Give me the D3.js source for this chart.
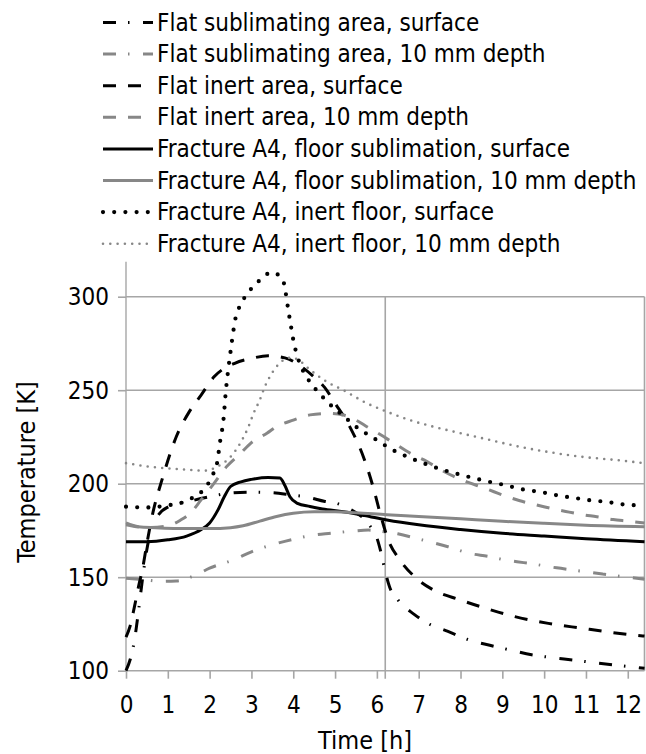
<!DOCTYPE html>
<html><head><meta charset="utf-8">
<script src="https://cdn.jsdelivr.net/npm/d3@7"></script>
<style>
html,body{margin:0;padding:0;background:#fff;}
svg text{font-family:"Liberation Sans Narrow","Arial Narrow","DejaVu Sans Condensed","Liberation Sans",sans-serif;fill:#000;}
</style></head>
<body>
<svg id="chart" width="646" height="754"></svg>
<script>
// ---- data (time [h], temperature [K]) ----
const flatSubSurface = [[0,100],[0.1,106],[0.2,116],[0.3,132],[0.4,150],[0.5,165],[0.6,175],[0.8,184],[1.0,187.5],[1.5,190.5],[2.0,193],[2.5,195],[3.0,195.5],[3.5,195.2],[4.0,193.8],[4.3,193],[4.76,190.5],[5.04,189.5],[5.36,186.3],[5.72,180.6],[5.88,176],[6.0,171],[6.1,163],[6.2,153],[6.3,145],[6.5,138],[6.9,130],[7.2,125.5],[7.7,121],[8.2,116.5],[8.7,113.6],[9.2,111],[9.7,108.5],[10.2,107],[10.7,105.7],[11.2,104.3],[11.7,103],[12.4,101.3]];
const flatSubDepth = [[0,149.5],[0.5,148.5],[0.8,147.8],[1.2,148],[1.7,151.5],[2.0,154.8],[2.6,159.5],[3.0,163.6],[3.6,168],[4.0,170.3],[4.4,172.2],[4.9,173.5],[5.4,174.6],[5.8,175.2],[6.1,174.5],[6.5,173.2],[7.0,170.4],[7.3,168.7],[7.7,166.3],[8.2,162.8],[8.7,161],[9.0,159.5],[9.35,158.3],[9.7,157.2],[10.3,155],[10.7,153.8],[11.0,152.9],[11.4,151.7],[11.7,150.8],[12.05,149.9],[12.4,148.9]];
const flatInertSurface = [[0,118],[0.1,124],[0.2,134],[0.3,145],[0.4,155],[0.5,168],[0.6,180],[0.9,205],[1.2,225],[1.5,238],[1.8,247.5],[2.1,257],[2.6,264.4],[3.0,267],[3.4,268.4],[3.8,267.3],[4.2,262.5],[4.5,257],[4.75,251.5],[5.0,243],[5.35,230.5],[5.7,213],[5.9,199],[6.08,184],[6.27,170],[6.55,159.2],[6.9,150.3],[7.35,143.2],[8.0,137.8],[8.6,133.4],[9.3,128.9],[10.1,125.3],[10.9,122.7],[11.6,120.5],[12.4,118.5]];
const flatInertDepth = [[0,178],[0.5,176.5],[1.0,177.5],[1.3,180.5],[1.55,184.5],[1.8,191.5],[2.1,200],[2.4,209],[2.73,216],[3.0,222],[3.37,227],[3.6,230.5],[4.0,234],[4.4,236.8],[4.9,237.6],[5.2,236.7],[5.5,234],[5.76,230.5],[6.1,226],[6.35,222.5],[6.87,215.4],[7.2,211.8],[7.5,207.8],[7.83,204],[8.15,201],[8.5,198.2],[8.8,195.7],[9.1,193.2],[9.4,191],[9.75,189],[10.2,186.6],[10.6,184.8],[10.9,183.5],[11.26,182.3],[11.65,180.8],[12.0,180],[12.4,179]];
const fracSubSurface = [[0,169],[0.5,169],[1.0,170],[1.45,172],[1.8,175.5],[2.0,179],[2.2,186],[2.35,193],[2.5,198.5],[2.75,201],[3.0,202.3],[3.4,203.3],[3.68,203],[3.8,199],[3.92,193],[4.1,189.5],[4.4,187.8],[4.7,186.5],[5.2,185],[5.7,183],[6.24,180.6],[7.0,178],[8.0,175.5],[9.0,173.5],[10.0,172],[11.0,170.5],[12.4,169]];
const fracSubDepth = [[0,179],[0.3,177],[0.7,176.5],[1.5,176],[2.0,176],[2.5,176.5],[2.8,177.5],[3.2,180],[3.6,182.5],[4.0,184.2],[4.5,185],[5.0,185],[5.5,184.5],[6.24,183.4],[7.0,182.5],[8.0,181.2],[9.0,179.9],[10.0,178.8],[11.0,177.8],[12.4,177]];
const fracInertSurface = [[0,187.7],[0.5,187.3],[1.05,188.6],[1.33,189.8],[1.57,192.2],[1.81,195.7],[1.97,200.2],[2.08,205],[2.17,210],[2.25,222.5],[2.33,234],[2.39,250],[2.45,262],[2.5,270.6],[2.57,282],[2.61,287.5],[2.69,293.3],[2.81,298.6],[2.97,303.6],[3.14,307.5],[3.3,311],[3.5,313],[3.65,311.5],[3.76,308.5],[3.82,302],[3.88,293],[3.94,285],[4.0,277],[4.1,268],[4.22,261],[4.35,256],[4.48,252],[4.66,247.4],[4.84,243.2],[5.05,239],[5.24,235.5],[5.44,231.5],[5.64,228.3],[5.88,225],[6.12,221.6],[6.33,218.6],[6.63,215.4],[6.91,212.7],[7.17,210.5],[7.41,208.6],[7.67,206.8],[7.93,205.2],[8.19,203.7],[8.44,202.3],[8.71,200.9],[8.95,199.8],[9.22,198.4],[9.48,197],[9.74,196.1],[10.0,195.2],[10.26,194],[10.52,193],[10.78,192.2],[11.04,191.3],[11.31,190.7],[11.58,190],[11.83,189.1],[12.1,188.6],[12.4,188]];
const fracInertDepth = [[0,211],[0.6,209],[1.3,207.7],[1.9,207],[2.17,209],[2.5,214.4],[2.73,221.6],[2.93,230.5],[3.05,237.6],[3.2,244.8],[3.32,251.9],[3.44,257.2],[3.6,262.6],[3.76,266],[3.95,267.4],[4.15,265.8],[4.36,261.7],[4.8,254.5],[5.2,250],[5.76,243],[6.24,238.5],[6.79,234],[7.35,230.5],[8.0,227],[8.7,223.4],[9.4,219.8],[10.2,216.6],[10.9,214.4],[11.7,212.7],[12.4,211]];

const seriesNames = ["Flat sublimating area, surface","Flat sublimating area, 10 mm depth","Flat inert area, surface","Flat inert area, 10 mm depth","Fracture A4, floor sublimation, surface","Fracture A4, floor sublimation, 10 mm depth","Fracture A4, inert floor, surface","Fracture A4, inert floor, 10 mm depth"];
const seriesData = [flatSubSurface, flatSubDepth, flatInertSurface, flatInertDepth, fracSubSurface, fracSubDepth, fracInertSurface, fracInertDepth];
const xTicks = [0,1,2,3,4,5,6,7,8,9,10,11,12];
const yTicks = [100,150,200,250,300];
const xGridValues = [6.2, 12.4];

// ---- styles ----
const BLACK = "#000", GRAY = "#878787";
const styles = [
  {color:BLACK, width:3, dash:"13,12,1.5,13.5", cap:"butt"},
  {color:GRAY,  width:3, dash:"13,12,1.5,13.5", cap:"butt"},
  {color:BLACK, width:3, dash:"13,12", cap:"butt"},
  {color:GRAY,  width:3, dash:"13,12", cap:"butt"},
  {color:BLACK, width:3, dash:null, cap:"butt"},
  {color:GRAY,  width:3, dash:null, cap:"butt"},
  {color:BLACK, width:4.2, dash:"0,11.2", cap:"round"},
  {color:GRAY,  width:2.6, dash:"0,7.3", cap:"round"}
];

const svg = d3.select("#chart");
const L = 126, R = 644.5, B = 670.7, T = 261.7;
const x = d3.scaleLinear().domain([0, 12.4]).range([L, R]);
const y = d3.scaleLinear().domain([100, 300]).range([B, 296.7]);
const GRID = "#a6a6a6";

// horizontal gridlines
svg.append("g").selectAll("line").data(yTicks.filter(d=>d>100)).join("line")
  .attr("x1", L).attr("x2", R).attr("y1", d=>y(d)).attr("y2", d=>y(d))
  .attr("stroke", GRID).attr("stroke-width", 1.6);
// vertical gridlines
svg.append("g").selectAll("line").data(xGridValues).join("line")
  .attr("x1", d=>x(d)).attr("x2", d=>x(d)).attr("y1", y(300)).attr("y2", d=> d===6.2 ? B+8 : B)
  .attr("stroke", GRID).attr("stroke-width", 1.6);

// y axis
const yAxis = d3.axisLeft(y).tickValues(yTicks).tickSize(8).tickPadding(9).tickFormat(d3.format("d"));
const gy = svg.append("g").attr("transform", `translate(${L},0)`).call(yAxis);
gy.select(".domain").remove();
gy.selectAll(".tick line").attr("stroke", GRID).attr("stroke-width", 1.6);
gy.selectAll(".tick text").attr("font-size", 24).attr("dy", "0.34em");
svg.append("line").attr("x1", L).attr("x2", L).attr("y1", T).attr("y2", B).attr("stroke", GRID).attr("stroke-width", 1.4);

// x axis
const xAxis = d3.axisBottom(x).tickValues(xTicks).tickSize(8).tickPadding(17).tickFormat(d3.format("d"));
const gx = svg.append("g").attr("transform", `translate(0,${B})`).call(xAxis);
gx.select(".domain").remove();
gx.selectAll(".tick line").attr("stroke", GRID).attr("stroke-width", 1.6);
gx.selectAll(".tick text").attr("font-size", 24).attr("dy", "0.71em");
svg.append("line").attr("x1", L).attr("x2", R).attr("y1", B).attr("y2", B).attr("stroke", GRID).attr("stroke-width", 1.6);

// axis titles
svg.append("text").attr("x", 365).attr("y", 740).attr("text-anchor", "middle").attr("dominant-baseline", "central").attr("font-size", 25).text("Time [h]");
svg.append("text").attr("transform", "translate(26,472) rotate(-90)").attr("text-anchor", "middle").attr("dominant-baseline", "central").attr("font-size", 25).text("Temperature [K]");

// lines
const line = d3.line().x(d=>x(d[0])).y(d=>y(d[1])).curve(d3.curveMonotoneX);
const gl = svg.append("g");
seriesData.forEach((data, i) => {
  const s = styles[i];
  gl.append("path").attr("d", line(data)).attr("fill", "none")
    .attr("stroke", s.color).attr("stroke-width", s.width)
    .attr("stroke-dasharray", s.dash).attr("stroke-linecap", s.cap).attr("stroke-linejoin", "round");
});

// legend
const lg = svg.append("g");
seriesNames.forEach((name, i) => {
  const s = styles[i];
  const cy = 22.5 + i * 31.6;
  lg.append("line").attr("x1", 103).attr("x2", 153).attr("y1", cy).attr("y2", cy)
    .attr("stroke", s.color).attr("stroke-width", s.width)
    .attr("stroke-dasharray", s.dash).attr("stroke-linecap", s.cap);
  lg.append("text").attr("x", 157).attr("y", cy).attr("dominant-baseline", "central").attr("font-size", 24).text(name);
});
</script>
</body></html>
